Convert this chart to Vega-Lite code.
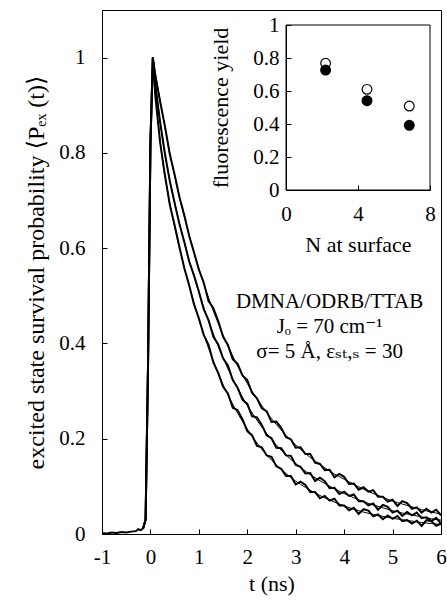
{
"$schema": "https://vega.github.io/schema/vega-lite/v6.json",
"width": 339, "height": 524,
"autosize": {"type": "none"},
"padding": {"left": 102, "top": 10, "right": 6, "bottom": 70},
"background": "white",
"config": {
  "font": "Liberation Serif, Times New Roman, Times, DejaVu Serif, serif",
  "view": {"stroke": "black", "strokeWidth": 1},
  "text": {"font": "Liberation Serif, Times New Roman, Times, DejaVu Serif, serif"},
  "axis": {"labelFont": "Liberation Serif, Times New Roman, Times, DejaVu Serif, serif", "labelFontSize": 21, "labelColor": "black", "titleFont": "Liberation Serif, Times New Roman, Times, DejaVu Serif, serif", "titleFontSize": 22, "titleFontWeight": "normal", "titleColor": "black", "domainColor": "black", "tickColor": "black", "grid": false, "labelFlush": false, "labelOverlap": false, "labelBound": false}
},
"resolve": {"scale": {"x": "independent", "y": "independent"}},
"layer": [
  {
    "data": {"values": [
      {"c":"A","k":"d","t":-1,"p":0.002},{"c":"A","k":"d","t":-0.9,"p":0.001},{"c":"A","k":"d","t":-0.8,"p":0.003},{"c":"A","k":"d","t":-0.7,"p":0.002},{"c":"A","k":"d","t":-0.6,"p":0.004},{"c":"A","k":"d","t":-0.5,"p":0.003},{"c":"A","k":"d","t":-0.4,"p":0.005},{"c":"A","k":"d","t":-0.3,"p":0.006},{"c":"A","k":"d","t":-0.25,"p":0.01},{"c":"A","k":"d","t":-0.2,"p":0.008},{"c":"A","k":"d","t":-0.15,"p":0.012},{"c":"A","k":"d","t":-0.1,"p":0.03},{"c":"A","k":"d","t":-0.05,"p":0.35},{"c":"A","k":"d","t":0,"p":0.82},{"c":"A","k":"d","t":0.05,"p":1.0},
      {"c":"A","k":"d","t":0.1,"p":0.962},{"c":"A","k":"d","t":0.2,"p":0.908},{"c":"A","k":"d","t":0.3,"p":0.856},{"c":"A","k":"d","t":0.4,"p":0.797},{"c":"A","k":"d","t":0.5,"p":0.754},{"c":"A","k":"d","t":0.6,"p":0.707},{"c":"A","k":"d","t":0.7,"p":0.669},{"c":"A","k":"d","t":0.8,"p":0.626},{"c":"A","k":"d","t":0.9,"p":0.591},{"c":"A","k":"d","t":1.0,"p":0.555},
      {"c":"A","k":"d","t":1.1,"p":0.528},{"c":"A","k":"d","t":1.2,"p":0.489},{"c":"A","k":"d","t":1.3,"p":0.474},{"c":"A","k":"d","t":1.4,"p":0.447},{"c":"A","k":"d","t":1.5,"p":0.414},{"c":"A","k":"d","t":1.6,"p":0.397},{"c":"A","k":"d","t":1.7,"p":0.367},{"c":"A","k":"d","t":1.8,"p":0.357},{"c":"A","k":"d","t":1.9,"p":0.333},{"c":"A","k":"d","t":2.0,"p":0.323},
      {"c":"A","k":"d","t":2.1,"p":0.296},{"c":"A","k":"d","t":2.2,"p":0.285},{"c":"A","k":"d","t":2.3,"p":0.264},{"c":"A","k":"d","t":2.4,"p":0.258},{"c":"A","k":"d","t":2.5,"p":0.235},{"c":"A","k":"d","t":2.6,"p":0.236},{"c":"A","k":"d","t":2.7,"p":0.223},{"c":"A","k":"d","t":2.8,"p":0.203},{"c":"A","k":"d","t":2.9,"p":0.199},{"c":"A","k":"d","t":3.0,"p":0.181},
      {"c":"A","k":"d","t":3.1,"p":0.182},{"c":"A","k":"d","t":3.2,"p":0.168},{"c":"A","k":"d","t":3.3,"p":0.168},{"c":"A","k":"d","t":3.4,"p":0.150},{"c":"A","k":"d","t":3.5,"p":0.147},{"c":"A","k":"d","t":3.6,"p":0.134},{"c":"A","k":"d","t":3.7,"p":0.135},{"c":"A","k":"d","t":3.8,"p":0.119},{"c":"A","k":"d","t":3.9,"p":0.126},{"c":"A","k":"d","t":4.0,"p":0.120},
      {"c":"A","k":"d","t":4.1,"p":0.105},{"c":"A","k":"d","t":4.2,"p":0.106},{"c":"A","k":"d","t":4.3,"p":0.093},{"c":"A","k":"d","t":4.4,"p":0.098},{"c":"A","k":"d","t":4.5,"p":0.089},{"c":"A","k":"d","t":4.6,"p":0.092},{"c":"A","k":"d","t":4.7,"p":0.078},{"c":"A","k":"d","t":4.8,"p":0.078},{"c":"A","k":"d","t":4.9,"p":0.068},{"c":"A","k":"d","t":5.0,"p":0.072},
      {"c":"A","k":"d","t":5.1,"p":0.059},{"c":"A","k":"d","t":5.2,"p":0.069},{"c":"A","k":"d","t":5.3,"p":0.065},{"c":"A","k":"d","t":5.4,"p":0.053},{"c":"A","k":"d","t":5.5,"p":0.056},{"c":"A","k":"d","t":5.6,"p":0.045},{"c":"A","k":"d","t":5.7,"p":0.053},{"c":"A","k":"d","t":5.8,"p":0.045},{"c":"A","k":"d","t":5.9,"p":0.051},{"c":"A","k":"d","t":6.0,"p":0.039},

      {"c":"B","k":"d","t":-0.15,"p":0.012},{"c":"B","k":"d","t":-0.1,"p":0.03},{"c":"B","k":"d","t":-0.05,"p":0.35},{"c":"B","k":"d","t":0,"p":0.82},{"c":"B","k":"d","t":0.05,"p":1.0},
      {"c":"B","k":"d","t":0.1,"p":0.942},{"c":"B","k":"d","t":0.2,"p":0.865},{"c":"B","k":"d","t":0.3,"p":0.798},{"c":"B","k":"d","t":0.4,"p":0.741},{"c":"B","k":"d","t":0.5,"p":0.695},{"c":"B","k":"d","t":0.6,"p":0.650},{"c":"B","k":"d","t":0.7,"p":0.613},{"c":"B","k":"d","t":0.8,"p":0.572},{"c":"B","k":"d","t":0.9,"p":0.543},{"c":"B","k":"d","t":1.0,"p":0.509},
      {"c":"B","k":"d","t":1.1,"p":0.472},{"c":"B","k":"d","t":1.2,"p":0.449},{"c":"B","k":"d","t":1.3,"p":0.414},{"c":"B","k":"d","t":1.4,"p":0.398},{"c":"B","k":"d","t":1.5,"p":0.369},{"c":"B","k":"d","t":1.6,"p":0.354},{"c":"B","k":"d","t":1.7,"p":0.323},{"c":"B","k":"d","t":1.8,"p":0.307},{"c":"B","k":"d","t":1.9,"p":0.282},{"c":"B","k":"d","t":2.0,"p":0.273},
      {"c":"B","k":"d","t":2.1,"p":0.247},{"c":"B","k":"d","t":2.2,"p":0.245},{"c":"B","k":"d","t":2.3,"p":0.229},{"c":"B","k":"d","t":2.4,"p":0.207},{"c":"B","k":"d","t":2.5,"p":0.201},{"c":"B","k":"d","t":2.6,"p":0.181},{"c":"B","k":"d","t":2.7,"p":0.180},{"c":"B","k":"d","t":2.8,"p":0.165},{"c":"B","k":"d","t":2.9,"p":0.164},{"c":"B","k":"d","t":3.0,"p":0.145},
      {"c":"B","k":"d","t":3.1,"p":0.141},{"c":"B","k":"d","t":3.2,"p":0.127},{"c":"B","k":"d","t":3.3,"p":0.128},{"c":"B","k":"d","t":3.4,"p":0.111},{"c":"B","k":"d","t":3.5,"p":0.118},{"c":"B","k":"d","t":3.6,"p":0.111},{"c":"B","k":"d","t":3.7,"p":0.096},{"c":"B","k":"d","t":3.8,"p":0.097},{"c":"B","k":"d","t":3.9,"p":0.084},{"c":"B","k":"d","t":4.0,"p":0.089},
      {"c":"B","k":"d","t":4.1,"p":0.080},{"c":"B","k":"d","t":4.2,"p":0.083},{"c":"B","k":"d","t":4.3,"p":0.069},{"c":"B","k":"d","t":4.4,"p":0.069},{"c":"B","k":"d","t":4.5,"p":0.060},{"c":"B","k":"d","t":4.6,"p":0.064},{"c":"B","k":"d","t":4.7,"p":0.051},{"c":"B","k":"d","t":4.8,"p":0.061},{"c":"B","k":"d","t":4.9,"p":0.057},{"c":"B","k":"d","t":5.0,"p":0.045},
      {"c":"B","k":"d","t":5.1,"p":0.049},{"c":"B","k":"d","t":5.2,"p":0.038},{"c":"B","k":"d","t":5.3,"p":0.046},{"c":"B","k":"d","t":5.4,"p":0.039},{"c":"B","k":"d","t":5.5,"p":0.045},{"c":"B","k":"d","t":5.6,"p":0.033},{"c":"B","k":"d","t":5.7,"p":0.035},{"c":"B","k":"d","t":5.8,"p":0.027},{"c":"B","k":"d","t":5.9,"p":0.034},{"c":"B","k":"d","t":6.0,"p":0.022},

      {"c":"C","k":"d","t":-0.15,"p":0.012},{"c":"C","k":"d","t":-0.1,"p":0.03},{"c":"C","k":"d","t":-0.05,"p":0.35},{"c":"C","k":"d","t":0,"p":0.82},{"c":"C","k":"d","t":0.05,"p":1.0},
      {"c":"C","k":"d","t":0.1,"p":0.920},{"c":"C","k":"d","t":0.2,"p":0.822},{"c":"C","k":"d","t":0.3,"p":0.753},{"c":"C","k":"d","t":0.4,"p":0.691},{"c":"C","k":"d","t":0.5,"p":0.648},{"c":"C","k":"d","t":0.6,"p":0.602},{"c":"C","k":"d","t":0.7,"p":0.558},{"c":"C","k":"d","t":0.8,"p":0.522},{"c":"C","k":"d","t":0.9,"p":0.482},{"c":"C","k":"d","t":1.0,"p":0.453},
      {"c":"C","k":"d","t":1.1,"p":0.418},{"c":"C","k":"d","t":1.2,"p":0.397},{"c":"C","k":"d","t":1.3,"p":0.360},{"c":"C","k":"d","t":1.4,"p":0.338},{"c":"C","k":"d","t":1.5,"p":0.309},{"c":"C","k":"d","t":1.6,"p":0.295},{"c":"C","k":"d","t":1.7,"p":0.265},{"c":"C","k":"d","t":1.8,"p":0.260},{"c":"C","k":"d","t":1.9,"p":0.241},{"c":"C","k":"d","t":2.0,"p":0.216},
      {"c":"C","k":"d","t":2.1,"p":0.207},{"c":"C","k":"d","t":2.2,"p":0.185},{"c":"C","k":"d","t":2.3,"p":0.182},{"c":"C","k":"d","t":2.4,"p":0.165},{"c":"C","k":"d","t":2.5,"p":0.162},{"c":"C","k":"d","t":2.6,"p":0.142},{"c":"C","k":"d","t":2.7,"p":0.137},{"c":"C","k":"d","t":2.8,"p":0.122},{"c":"C","k":"d","t":2.9,"p":0.122},{"c":"C","k":"d","t":3.0,"p":0.104},
      {"c":"C","k":"d","t":3.1,"p":0.110},{"c":"C","k":"d","t":3.2,"p":0.103},{"c":"C","k":"d","t":3.3,"p":0.088},{"c":"C","k":"d","t":3.4,"p":0.088},{"c":"C","k":"d","t":3.5,"p":0.075},{"c":"C","k":"d","t":3.6,"p":0.080},{"c":"C","k":"d","t":3.7,"p":0.070},{"c":"C","k":"d","t":3.8,"p":0.074},{"c":"C","k":"d","t":3.9,"p":0.060},{"c":"C","k":"d","t":4.0,"p":0.060},
      {"c":"C","k":"d","t":4.1,"p":0.050},{"c":"C","k":"d","t":4.2,"p":0.055},{"c":"C","k":"d","t":4.3,"p":0.042},{"c":"C","k":"d","t":4.4,"p":0.052},{"c":"C","k":"d","t":4.5,"p":0.049},{"c":"C","k":"d","t":4.6,"p":0.037},{"c":"C","k":"d","t":4.7,"p":0.041},{"c":"C","k":"d","t":4.8,"p":0.031},{"c":"C","k":"d","t":4.9,"p":0.039},{"c":"C","k":"d","t":5.0,"p":0.032},
      {"c":"C","k":"d","t":5.1,"p":0.038},{"c":"C","k":"d","t":5.2,"p":0.027},{"c":"C","k":"d","t":5.3,"p":0.029},{"c":"C","k":"d","t":5.4,"p":0.022},{"c":"C","k":"d","t":5.5,"p":0.028},{"c":"C","k":"d","t":5.6,"p":0.017},{"c":"C","k":"d","t":5.7,"p":0.029},{"c":"C","k":"d","t":5.8,"p":0.027},{"c":"C","k":"d","t":5.9,"p":0.017},{"c":"C","k":"d","t":6.0,"p":0.022},

      {"c":"A","k":"f","t":0.05,"p":1.0},{"c":"A","k":"f","t":0.2,"p":0.91},{"c":"A","k":"f","t":0.4,"p":0.80},{"c":"A","k":"f","t":0.6,"p":0.707},{"c":"A","k":"f","t":0.8,"p":0.627},{"c":"A","k":"f","t":1.0,"p":0.557},{"c":"A","k":"f","t":1.2,"p":0.496},{"c":"A","k":"f","t":1.4,"p":0.442},{"c":"A","k":"f","t":1.6,"p":0.395},{"c":"A","k":"f","t":1.8,"p":0.353},{"c":"A","k":"f","t":2.0,"p":0.316},{"c":"A","k":"f","t":2.2,"p":0.284},{"c":"A","k":"f","t":2.4,"p":0.255},{"c":"A","k":"f","t":2.6,"p":0.230},{"c":"A","k":"f","t":2.8,"p":0.207},{"c":"A","k":"f","t":3.0,"p":0.187},{"c":"A","k":"f","t":3.2,"p":0.169},{"c":"A","k":"f","t":3.4,"p":0.153},{"c":"A","k":"f","t":3.6,"p":0.139},{"c":"A","k":"f","t":3.8,"p":0.126},{"c":"A","k":"f","t":4.0,"p":0.115},{"c":"A","k":"f","t":4.2,"p":0.104},{"c":"A","k":"f","t":4.4,"p":0.094},{"c":"A","k":"f","t":4.6,"p":0.085},{"c":"A","k":"f","t":4.8,"p":0.077},{"c":"A","k":"f","t":5.0,"p":0.069},{"c":"A","k":"f","t":5.2,"p":0.063},{"c":"A","k":"f","t":5.4,"p":0.057},{"c":"A","k":"f","t":5.6,"p":0.051},{"c":"A","k":"f","t":5.8,"p":0.046},{"c":"A","k":"f","t":6.0,"p":0.042},
      {"c":"B","k":"f","t":0.05,"p":1.0},{"c":"B","k":"f","t":0.2,"p":0.865},{"c":"B","k":"f","t":0.4,"p":0.742},{"c":"B","k":"f","t":0.6,"p":0.652},{"c":"B","k":"f","t":0.8,"p":0.575},{"c":"B","k":"f","t":1.0,"p":0.507},{"c":"B","k":"f","t":1.2,"p":0.447},{"c":"B","k":"f","t":1.4,"p":0.394},{"c":"B","k":"f","t":1.6,"p":0.347},{"c":"B","k":"f","t":1.8,"p":0.306},{"c":"B","k":"f","t":2.0,"p":0.270},{"c":"B","k":"f","t":2.2,"p":0.239},{"c":"B","k":"f","t":2.4,"p":0.211},{"c":"B","k":"f","t":2.6,"p":0.187},{"c":"B","k":"f","t":2.8,"p":0.166},{"c":"B","k":"f","t":3.0,"p":0.148},{"c":"B","k":"f","t":3.2,"p":0.132},{"c":"B","k":"f","t":3.4,"p":0.118},{"c":"B","k":"f","t":3.6,"p":0.106},{"c":"B","k":"f","t":3.8,"p":0.095},{"c":"B","k":"f","t":4.0,"p":0.085},{"c":"B","k":"f","t":4.2,"p":0.076},{"c":"B","k":"f","t":4.4,"p":0.068},{"c":"B","k":"f","t":4.6,"p":0.061},{"c":"B","k":"f","t":4.8,"p":0.055},{"c":"B","k":"f","t":5.0,"p":0.049},{"c":"B","k":"f","t":5.2,"p":0.044},{"c":"B","k":"f","t":5.4,"p":0.040},{"c":"B","k":"f","t":5.6,"p":0.036},{"c":"B","k":"f","t":5.8,"p":0.032},{"c":"B","k":"f","t":6.0,"p":0.029},
      {"c":"C","k":"f","t":0.05,"p":1.0},{"c":"C","k":"f","t":0.2,"p":0.825},{"c":"C","k":"f","t":0.4,"p":0.695},{"c":"C","k":"f","t":0.6,"p":0.600},{"c":"C","k":"f","t":0.8,"p":0.521},{"c":"C","k":"f","t":1.0,"p":0.451},{"c":"C","k":"f","t":1.2,"p":0.390},{"c":"C","k":"f","t":1.4,"p":0.337},{"c":"C","k":"f","t":1.6,"p":0.292},{"c":"C","k":"f","t":1.8,"p":0.254},{"c":"C","k":"f","t":2.0,"p":0.220},{"c":"C","k":"f","t":2.2,"p":0.191},{"c":"C","k":"f","t":2.4,"p":0.166},{"c":"C","k":"f","t":2.6,"p":0.145},{"c":"C","k":"f","t":2.8,"p":0.127},{"c":"C","k":"f","t":3.0,"p":0.111},{"c":"C","k":"f","t":3.2,"p":0.098},{"c":"C","k":"f","t":3.4,"p":0.086},{"c":"C","k":"f","t":3.6,"p":0.076},{"c":"C","k":"f","t":3.8,"p":0.067},{"c":"C","k":"f","t":4.0,"p":0.059},{"c":"C","k":"f","t":4.2,"p":0.052},{"c":"C","k":"f","t":4.4,"p":0.046},{"c":"C","k":"f","t":4.6,"p":0.041},{"c":"C","k":"f","t":4.8,"p":0.037},{"c":"C","k":"f","t":5.0,"p":0.033},{"c":"C","k":"f","t":5.2,"p":0.030},{"c":"C","k":"f","t":5.4,"p":0.027},{"c":"C","k":"f","t":5.6,"p":0.024},{"c":"C","k":"f","t":5.8,"p":0.022},{"c":"C","k":"f","t":6.0,"p":0.020}
    ]},
    "layer": [
      {"transform": [{"filter": "datum.k == 'd'"}], "mark": {"type": "line", "color": "black", "strokeWidth": 2, "clip": true},
       "encoding": {
        "x": {"field": "t", "type": "quantitative", "scale": {"domain": [-1, 6], "nice": false, "zero": false},
              "axis": {"orient": "bottom", "values": [-1,0,1,2,3,4,5,6], "labelExpr": "'' + datum.value", "tickSize": -5, "labelPadding": 17, "title": "t (ns)", "titlePadding": 6}},
        "y": {"field": "p", "type": "quantitative", "scale": {"domain": [0, 1.1], "nice": false},
              "axis": {"orient": "left", "values": [0,0.2,0.4,0.6,0.8,1], "labelExpr": "'' + datum.value", "tickSize": -5, "labelPadding": 22, "title": "excited state survival probability ⟨Pₑₓ (t)⟩", "titleFontSize": 24, "titlePadding": 10}},
        "detail": {"field": "c"}}},
      {"transform": [{"filter": "datum.k == 'f'"}], "mark": {"type": "line", "color": "black", "strokeWidth": 1, "interpolate": "monotone", "clip": true},
       "encoding": {"x": {"field": "t", "type": "quantitative"}, "y": {"field": "p", "type": "quantitative"}, "detail": {"field": "c"}}},
      {"data": {"values": [{"n": 1}]}, "mark": {"type": "text", "fontSize": 21, "align": "center", "baseline": "top", "lineHeight": 25, "color": "black"},
       "encoding": {"x": {"datum": 3.7, "type": "quantitative"}, "y": {"datum": 0.51, "type": "quantitative"}, "text": {"value": ["DMNA/ODRB/TTAB", "Jₒ = 70 cm⁻¹", "σ= 5 Å, εₛₜ,ₛ = 30"]}}}
    ]
  },
  {
    "layer": [
      {"data": {"values": [{"n": 1}]}, "mark": {"type": "rect", "fill": "transparent", "stroke": "black", "strokeWidth": 1},
       "encoding": {
         "x": {"datum": 0, "type": "quantitative", "scale": {"domain": [0, 8], "range": [184, 328], "nice": false},
               "axis": {"orient": "bottom", "offset": -344, "values": [0,4,8], "labelExpr": "'' + datum.value", "tickSize": -5, "labelPadding": 18, "title": "N at surface", "titlePadding": 10}},
         "x2": {"datum": 8},
         "y": {"datum": 0, "type": "quantitative", "scale": {"domain": [0, 1], "range": [180, 15], "nice": false},
               "axis": {"orient": "left", "offset": -184, "values": [0,0.2,0.4,0.6,0.8,1], "labelExpr": "'' + datum.value", "tickSize": -5, "labelPadding": 12, "title": "fluorescence yield", "titlePadding": 20}},
         "y2": {"datum": 1}}},
      {"data": {"values": [
        {"N": 2.2, "yield": 0.768, "type": "open"},
        {"N": 4.5, "yield": 0.61, "type": "open"},
        {"N": 6.85, "yield": 0.509, "type": "open"},
        {"N": 2.2, "yield": 0.727, "type": "filled"},
        {"N": 4.5, "yield": 0.541, "type": "filled"},
        {"N": 6.85, "yield": 0.392, "type": "filled"}
       ]},
       "mark": {"type": "point", "shape": "circle", "filled": true, "stroke": "black", "strokeWidth": 1.2, "size": 95, "opacity": 1},
       "encoding": {
         "x": {"field": "N", "type": "quantitative"},
         "y": {"field": "yield", "type": "quantitative"},
         "fill": {"field": "type", "type": "nominal", "scale": {"domain": ["open", "filled"], "range": ["white", "black"]}, "legend": null}}}
    ]
  }
]
}
